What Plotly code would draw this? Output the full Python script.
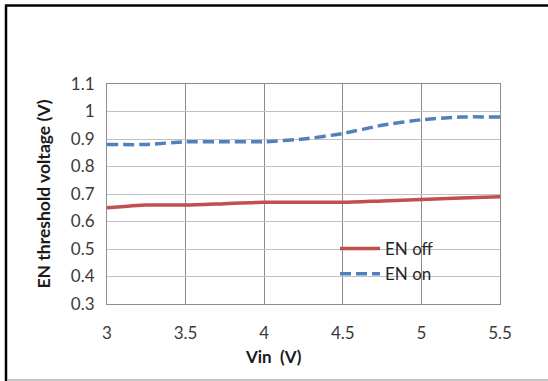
import plotly.graph_objects as go

# Input voltage sweep (V)
vin = [3.0, 3.25, 3.5, 3.75, 4.0, 4.25, 4.5, 4.75, 5.0, 5.25, 5.5]
# EN threshold voltages (V)
en_off = [0.65, 0.66, 0.66, 0.665, 0.67, 0.67, 0.67, 0.675, 0.68, 0.685, 0.69]
en_on = [0.88, 0.88, 0.89, 0.89, 0.89, 0.90, 0.92, 0.95, 0.97, 0.98, 0.98]

x_ticks = [3, 3.5, 4, 4.5, 5, 5.5]
x_tick_text = ["3", "3.5", "4", "4.5", "5", "5.5"]
y_ticks = [0.3, 0.4, 0.5, 0.6, 0.7, 0.8, 0.9, 1.0, 1.1]
y_tick_text = ["0.3", "0.4", "0.5", "0.6", "0.7", "0.8", "0.9", "1", "1.1"]

W, H = 548, 381
L, R, T, B = 107, 48, 84, 77
FONT = "Lato, 'Open Sans', sans-serif"

fig = go.Figure()
fig.add_trace(go.Scatter(
    x=vin, y=en_off, name="EN off", mode="lines",
    line=dict(color="#C0504D", width=3.5, shape="spline", smoothing=0.6),
))
fig.add_trace(go.Scatter(
    x=vin, y=en_on, name="EN on", mode="lines",
    line=dict(color="#4F81BD", width=3.5, dash="11px,5px", shape="spline", smoothing=0.6),
))

fig.update_xaxes(
    range=[3, 5.5], tickvals=x_ticks, ticktext=x_tick_text,
    showgrid=True, gridcolor="#8c8c8c", gridwidth=1,
    showline=True, linecolor="#8c8c8c", linewidth=1, mirror=True,
    ticks="", ticklabelstandoff=14, zeroline=False,
    tickfont=dict(family=FONT, size=17, color="#3a3a3a"),
)
fig.update_yaxes(
    range=[0.3, 1.1], tickvals=y_ticks, ticktext=y_tick_text,
    showgrid=True, gridcolor="#c0c0c0", gridwidth=1,
    showline=True, linecolor="#8c8c8c", linewidth=1, mirror=True,
    ticks="", ticklabelstandoff=8, zeroline=False,
    tickfont=dict(family=FONT, size=17, color="#3a3a3a"),
    title=dict(text="<b>EN threshold voltage (V)</b>", standoff=15,
               font=dict(family=FONT, size=17.5, color="#1a1a1a")),
)

# chart frame: black top and left edges, grey bottom edge
px = lambda v: (v - L) / (W - L - R)
py = lambda v: (H - B - v) / (H - T - B)
fig.add_shape(type="line", xref="paper", yref="paper",
              x0=px(5), x1=px(W), y0=py(5.5), y1=py(5.5),
              line=dict(color="black", width=2.5))
fig.add_shape(type="line", xref="paper", yref="paper",
              x0=px(6), x1=px(6), y0=py(5), y1=py(H),
              line=dict(color="black", width=2.5))
fig.add_shape(type="line", xref="paper", yref="paper",
              x0=px(7), x1=px(W), y0=py(380), y1=py(380),
              line=dict(color="#b0b0b0", width=1.5))

fig.add_annotation(
    text="<b>Vin  (V)</b>", xref="paper", yref="paper",
    x=px(273), y=py(356), yanchor="middle", showarrow=False,
    font=dict(family=FONT, size=17, color="#1a1a1a"),
)

fig.update_layout(
    width=W, height=H,
    margin=dict(l=L, r=R, t=T, b=B),
    paper_bgcolor="white", plot_bgcolor="white",
    showlegend=True,
    legend=dict(
        x=px(335), y=py(231), xanchor="left", yanchor="top",
        bgcolor="rgba(0,0,0,0)", tracegroupgap=3, itemwidth=40,
        font=dict(family=FONT, size=17, color="#262626"),
    ),
)

fig.write_html("out.html")
